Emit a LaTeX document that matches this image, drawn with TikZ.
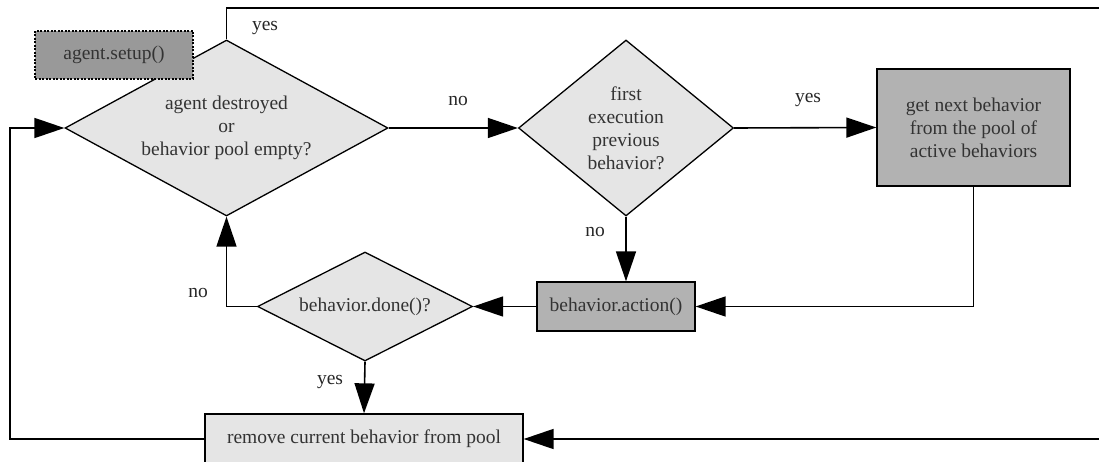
\documentclass[tikz,border=0pt]{standalone}
\usepackage{fontspec}
\setmainfont{Liberation Serif}
\usetikzlibrary{shapes.geometric,arrows.meta}

\tikzset{
  flow/.style={line width=1.6pt,-{Triangle[length=30pt,width=20pt]}},
  plain/.style={line width=1.6pt},
  decision/.style={diamond,draw,line width=1.3pt,fill=black!10,inner sep=0pt,align=center,text=black!80},
  process/.style={rectangle,draw,line width=1.3pt,fill=black!30,inner sep=0pt,align=center,text=black!80},
  answer/.style={text=black!85}
}

\begin{document}
\begin{tikzpicture}[x=1pt,y=-1pt,font=\fontsize{19.5}{23}\selectfont]
            \useasboundingbox (0,0) rectangle (1099,462);
            \clip (0,0) rectangle (1099,462);

            % Decisioni
            \node[decision,aspect=1.835,minimum width=323pt,minimum height=176pt] (empty) at (226.5,128) {agent destroyed\\or\\behavior pool empty?};
            \node[decision,aspect=1.22,minimum width=215pt,minimum height=176pt] (first) at (626,128) {first\\execution\\previous\\behavior?};
            \node[decision,aspect=2,minimum width=215pt,minimum height=109pt] (done) at (365,306.5) {behavior.done()?};

            % Blocchi
            \node[process,fill=black!40,dash pattern=on 2pt off 1.5pt,minimum width=158pt,minimum height=48pt] (setup) at (114,55) {agent.setup()};
            \node[process,minimum width=193pt,minimum height=117pt] (next) at (973.5,127.5) {get next behavior\\from the pool of\\active behaviors};
            \node[process,minimum width=158pt,minimum height=49pt] (action) at (616,306.5) {behavior.action()};
            \node[process,fill=black!10,minimum width=318pt,minimum height=50pt] (remove) at (364,439) {remove current behavior from pool};

            % Estremi liberi
            \coordinate (out) at (1110,8);
            \coordinate (in) at (1110,439);
            \coordinate (back) at (10,300);

            % Collegamenti
            \draw[plain] (empty.north) |- (out);
            \draw[flow] (empty.east) -- (first.west);
            \draw[flow] (first.east) -- (next.west);
            \draw[flow] (first.south) -- (first.south |- action.north);
            \draw[flow] (next.south) |- (action.east);
            \draw[flow] (action.west) -- (done.east);
            \draw[flow] (done.west) -| (empty.south);
            \draw[flow] (done.south) -- (remove.north);
            \draw[flow] (remove.west) -| (back) |- (empty.west);
            \draw[flow] (in) -- (remove.east);

            % Etichette
            \node[answer] (yes1) at (265,28) {yes};
            \node[answer] (no1) at (458,101) {no};
            \node[answer] (yes2) at (808,100) {yes};
            \node[answer] (no2) at (595,232) {no};
            \node[answer] (no3) at (198,293) {no};
            \node[answer] (yes3) at (330,382) {yes};
\end{tikzpicture}
\end{document}
